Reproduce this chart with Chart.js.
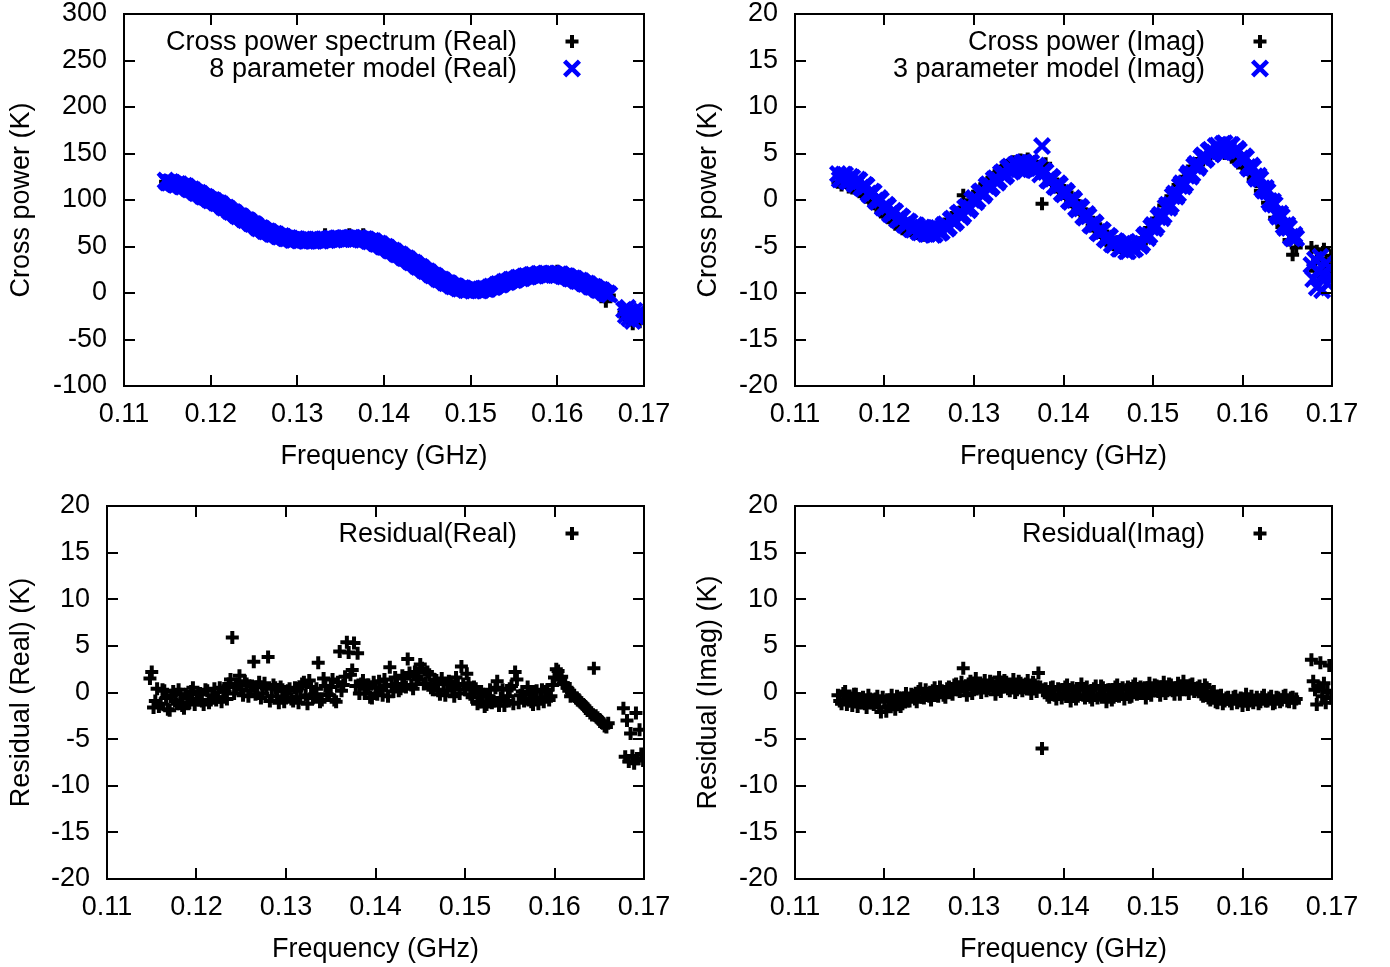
<!DOCTYPE html>
<html>
<head>
<meta charset="utf-8">
<script src="https://cdn.jsdelivr.net/npm/chart.js@4.4.1/dist/chart.umd.min.js"></script>
<style>
  html, body { margin: 0; padding: 0; background: #fff; width: 1390px; height: 967px; overflow: hidden; }
  .pane { position: absolute; }
  .pane canvas { display: block; }
</style>
</head>
<body>
<div class="pane" id="pTL"><canvas id="cTL"></canvas></div>
<div class="pane" id="pTR"><canvas id="cTR"></canvas></div>
<div class="pane" id="pBL"><canvas id="cBL"></canvas></div>
<div class="pane" id="pBR"><canvas id="cBR"></canvas></div>
<script>
// ---------------- DATA ----------------
const xTitle = 'Frequency (GHz)';

// frequency grid of the main band (GHz)
const freq = [
  0.1148,0.1152,0.1156,0.1160,0.1164,0.1168,0.1172,0.1176,0.1180,0.1184,
  0.1188,0.1192,0.1196,0.1200,0.1204,0.1208,0.1212,0.1216,0.1220,0.1224,
  0.1228,0.1232,0.1236,0.1240,0.1244,0.1248,0.1252,0.1256,0.1260,0.1264,
  0.1268,0.1272,0.1276,0.1280,0.1284,0.1288,0.1292,0.1296,0.1300,0.1304,
  0.1308,0.1312,0.1316,0.1320,0.1324,0.1328,0.1332,0.1336,0.1340,0.1344,
  0.1348,0.1352,0.1356,0.1360,0.1364,0.1368,0.1372,0.1376,0.1380,0.1384,
  0.1388,0.1392,0.1396,0.1400,0.1404,0.1408,0.1412,0.1416,0.1420,0.1424,
  0.1428,0.1432,0.1436,0.1440,0.1444,0.1448,0.1452,0.1456,0.1460,0.1464,
  0.1468,0.1472,0.1476,0.1480,0.1484,0.1488,0.1492,0.1496,0.1500,0.1504,
  0.1508,0.1512,0.1516,0.1520,0.1524,0.1528,0.1532,0.1536,0.1540,0.1544,
  0.1548,0.1552,0.1556,0.1560,0.1564,0.1568,0.1572,0.1576,0.1580,0.1584,
  0.1588,0.1592,0.1596,0.1600,0.1604,0.1608,0.1612,0.1616,0.1620,0.1624,
  0.1628,0.1632,0.1636,0.1640,0.1644,0.1648,0.1652,0.1656,0.1660
];
// interleaved channels (between the grid above)
const freqMid = [
  0.1150,0.1154,0.1158,0.1162,0.1166,0.1170,0.1174,0.1178,0.1182,0.1186,
  0.1190,0.1194,0.1198,0.1202,0.1206,0.1210,0.1214,0.1218,0.1222,0.1226,
  0.1230,0.1234,0.1238,0.1242,0.1246,0.1250,0.1254,0.1258,0.1262,0.1266,
  0.1270,0.1274,0.1278,0.1282,0.1286,0.1290,0.1294,0.1298,0.1302,0.1306,
  0.1310,0.1314,0.1318,0.1322,0.1326,0.1330,0.1334,0.1338,0.1342,0.1346,
  0.1350,0.1354,0.1358,0.1362,0.1366,0.1370,0.1374,0.1378,0.1382,0.1386,
  0.1390,0.1394,0.1398,0.1402,0.1406,0.1410,0.1414,0.1418,0.1422,0.1426,
  0.1430,0.1434,0.1438,0.1442,0.1446,0.1450,0.1454,0.1458,0.1462,0.1466,
  0.1470,0.1474,0.1478,0.1482,0.1486,0.1490,0.1494,0.1498,0.1502,0.1506,
  0.1510,0.1514,0.1518,0.1522,0.1526,0.1530,0.1534,0.1538,0.1542,0.1546,
  0.1550,0.1554,0.1558,0.1562,0.1566,0.1570,0.1574,0.1578,0.1582,0.1586,
  0.1590,0.1594,0.1598,0.1602,0.1606,0.1610,0.1614,0.1618,0.1622,0.1626,
  0.1630,0.1634,0.1638,0.1642,0.1646,0.1650,0.1654,0.1658
];
// isolated group of channels at the top of the band
const freqTail = [0.1677,0.1679,0.1681,0.1683,0.1685,0.1687,0.1689,0.1691,0.1693,0.1695,0.1697,0.1699];

// Cross power spectrum (Real), K
const realData = [
  119.5,120.2,117.1,117.8,115.2,116.1,113.0,112.9,109.1,108.8,
  105.2,104.9,101.3,101.0,98.0,97.9,93.6,93.1,89.2,88.6,
  84.6,83.9,80.2,84.0,76.1,75.6,71.4,70.9,67.5,67.4,
  64.2,64.7,61.3,64.5,59.3,59.8,57.0,58.6,56.5,57.8,
  55.9,57.6,55.8,57.5,56.1,58.0,62.7,58.4,57.3,58.9,
  57.6,59.4,58.0,62.7,58.5,59.6,58.0,62.7,56.4,56.9,
  54.2,54.1,50.8,50.9,47.3,46.8,43.2,42.9,39.3,38.8,
  35.0,34.2,30.4,29.5,25.8,25.0,21.0,20.2,16.5,15.7,
  12.4,11.6,8.8,8.3,5.5,5.8,3.6,4.1,2.5,3.9,
  2.4,4.3,3.8,5.7,5.6,8.4,8.3,10.9,11.0,13.6,
  13.4,15.8,15.3,17.4,17.0,19.1,18.5,20.2,19.4,21.0,
  19.7,21.0,19.6,23.5,18.9,18.8,16.6,16.5,14.2,13.9,
  11.5,10.8,8.1,7.6,4.8,4.3,1.4,-9.0,-2.8
];
const realDataTail = [-21,-26,-19,-29,-23,-33,-22,-27,-25,-31,-23,-27];

// 8 parameter model (Real), K  (grid + interleaved channels)
const realModel = [
  121,118.5,118.6,116.2,116.8,114.3,114.6,111.2,110.5,107.4,
  106.8,103.4,102.5,99.6,99.2,96.4,95.3,91.6,90.7,87.1,
  85.9,82.4,81.6,78.3,77.5,74.1,72.9,69.4,68.8,66.1,
  65.6,63.1,62.8,60.4,60.6,58.5,58.6,57.1,57.9,56.5,
  57.3,56.1,57.0,56.2,57.4,56.5,57.8,57.2,58.6,57.7,
  58.9,58.0,59.2,58.3,59.5,58.1,58.9,57.4,57.6,55.4,
  55.6,52.8,52.3,49.4,48.6,45.4,44.7,41.5,40.6,37.4,
  36.3,32.7,31.6,28.1,26.9,23.4,22.3,18.7,17.6,14.4,
  13.6,10.4,9.9,7.1,6.6,4.6,4.9,2.9,3.9,2.6,
  3.6,3.1,4.9,4.4,6.9,7.1,9.6,9.7,12.3,12.4,
  14.6,14.4,16.6,16.2,18.3,17.9,19.6,18.9,20.6,19.6,
  20.9,19.9,20.8,19.2,20.1,17.7,17.8,15.4,15.3,12.7,
  12.6,9.7,9.3,6.4,5.9,3.1,2.6,-0.6,-1.6
];
const realModelMid = [
  118.8,119.3,116.9,117.2,114.8,115.3,112.4,111.6,108.3,107.7,
  104.3,103.6,100.5,100.1,97.1,96.4,92.8,91.9,88.1,87.2,
  83.5,82.7,79.3,78.6,75.1,74.2,70.5,69.9,66.8,66.4,
  63.6,63.7,61.0,61.2,58.8,59.1,57.1,58.1,56.5,57.5,
  56.0,57.3,55.9,57.4,56.2,57.8,56.8,58.4,57.4,58.9,
  57.7,59.2,58.0,59.5,58.1,59.1,57.4,58.1,55.8,56.1,
  53.5,53.1,50.1,49.6,46.3,45.6,42.3,41.6,38.3,37.4,
  33.8,32.8,29.1,28.1,24.5,23.4,19.8,18.8,15.3,14.6,
  11.3,10.8,7.8,7.4,4.9,5.4,3.2,4.0,2.5,3.7,
  2.6,4.6,4.0,6.3,6.3,8.9,9.0,11.6,11.6,14.1,
  13.8,16.1,15.7,17.8,17.4,19.4,18.5,20.4,19.4,20.9,
  19.7,20.9,19.3,20.2,18.2,18.3,15.9,15.9,13.3,13.3,
  10.5,10.1,7.1,6.8,3.8,3.4,0.3,-0.4
];
const realModelTail = [-18,-24,-16,-27,-21,-30,-19,-25,-22,-28,-20,-24];

// Cross power (Imag), K
const imagData = [
  1.9,1.6,1.9,1.4,1.3,1.4,0.9,0.9,0.3,0.2,
  -0.4,-0.4,-1.3,-1.4,-1.9,-1.9,-2.6,-2.5,-3.1,-2.9,
  -3.3,-3.3,-3.6,-3.5,-3.8,-3.5,-3.8,-3.4,-3.6,-3.0,
  -2.7,-2.1,-2.0,-1.4,-1.3,0.5,-0.5,-0.1,0.4,0.9,
  1.2,1.7,1.9,2.4,2.6,3.1,3.2,3.7,3.8,4.1,
  4.0,4.3,4.2,4.4,4.0,4.1,3.6,-0.4,3.9,2.2,
  2.2,1.4,1.5,0.7,0.8,-0.2,-0.1,-1.0,-1.0,-1.8,
  -1.9,-2.8,-2.6,-3.5,-3.4,-4.4,-4.1,-4.8,-4.5,-5.1,
  -5.2,-4.9,-5.3,-4.6,-4.7,-4.1,-4.2,-3.0,-2.9,-2.0,
  -1.8,-0.6,-0.5,0.4,0.5,1.6,1.8,2.5,2.8,3.6,
  3.9,4.4,4.3,4.9,4.6,5.2,4.8,5.3,5.0,5.2,
  4.6,4.9,4.2,3.5,3.9,2.8,2.2,2.0,1.0,0.9,
  -0.3,-0.5,-1.9,-2.1,-2.9,-3.0,-4.3,-5.9,-5.1
];
const imagDataTail = [-5.1,-6.8,-7.6,-5.5,-8.2,-6.3,-7.4,-5.3,-8.6,-6.9,-7.8,-6.0];

// 3 parameter model (Imag), K  (grid + interleaved channels)
const imagModel = [
  2.8,2.2,2.7,2.0,2.4,1.7,2.1,1.2,1.5,0.5,
  0.8,-0.2,0.0,-0.9,-0.7,-1.6,-1.3,-2.2,-1.9,-2.75,
  -2.4,-3.2,-2.75,-3.5,-3.0,-3.65,-3.1,-3.7,-3.0,-3.4,
  -2.6,-2.9,-2.0,-2.3,-1.35,-1.6,-0.7,-0.85,0.2,0.0,
  0.95,0.7,1.7,1.45,2.35,2.1,3.0,2.7,3.6,3.15,
  3.9,3.4,4.05,3.45,4.0,3.2,3.55,5.8,3.0,2.05,
  2.3,1.35,1.6,0.6,0.8,-0.2,0.0,-1.05,-0.9,-1.9,
  -1.75,-2.8,-2.6,-3.6,-3.35,-4.3,-4.0,-4.85,-4.5,-5.25,
  -4.8,-5.5,-4.8,-5.25,-4.5,-4.7,-3.7,-3.8,-2.7,-2.75,
  -1.6,-1.65,-0.5,-0.5,0.7,0.65,1.8,1.75,2.9,2.8,
  3.9,3.75,4.8,4.5,5.4,5.1,5.85,5.4,6.1,5.4,
  5.9,5.1,5.3,4.3,4.5,3.35,3.45,2.3,2.25,1.0,
  0.9,-0.4,-0.5,-1.8,-1.8,-3.0,-3.0,-4.15,-4.1
];
const imagModelMid = [
  2.2,2.75,2.05,2.5,1.75,2.2,1.35,1.65,0.7,0.9,
  -0.05,0.2,-0.8,-0.5,-1.5,-1.15,-2.1,-1.75,-2.65,-2.3,
  -3.15,-2.7,-3.45,-2.95,-3.65,-3.1,-3.75,-3.05,-3.55,-2.7,
  -3.1,-2.15,-2.5,-1.5,-1.85,-0.85,-1.1,0.0,-0.25,0.8,
  0.45,1.5,1.25,2.2,1.85,2.85,2.5,3.45,3.05,3.8,
  3.3,4.0,3.4,4.0,3.25,3.7,2.75,3.15,2.15,2.5,
  1.45,1.8,0.75,1.0,-0.05,0.2,-0.85,-0.7,-1.75,-1.5,
  -2.65,-2.4,-3.45,-3.2,-4.15,-3.85,-4.75,-4.4,-5.25,-4.7,
  -5.5,-4.85,-5.35,-4.6,-4.95,-3.9,-4.1,-2.95,-3.05,-1.85,
  -1.95,-0.8,-0.85,0.4,0.35,1.5,1.45,2.6,2.5,3.65,
  3.45,4.6,4.3,5.25,4.9,5.8,5.25,6.05,5.4,5.95,
  5.15,5.5,4.45,4.7,3.55,3.7,2.55,2.6,1.25,1.3,
  -0.1,-0.15,-1.5,-1.45,-2.75,-2.65,-3.95,-3.75
];
const imagModelTail = [-7.0,-8.5,-6.4,-9.4,-7.6,-6.1,-9.7,-8.0,-6.8,-9.0,-7.3,-8.2];

// Residual (Real), K  (grid + interleaved channels)
const resReal = [
  1.5,-1.6,0.4,-1.2,0.2,-1.8,-0.3,-0.9,0.3,-1.4,
  -0.2,-1.1,0.5,-0.7,-0.1,-1.3,0.2,-0.8,0.4,-0.5,
  -1.0,0.1,0.9,5.9,0.6,1.8,-0.3,0.9,0.2,3.3,
  0.6,-0.6,1.0,3.8,-0.4,0.5,-1.1,0.3,-0.6,0.4,
  -0.9,0.2,-0.5,1.1,-1.2,0.6,-0.2,3.2,-0.8,0.7,
  -0.3,1.4,-1.0,4.4,0.8,5.4,1.9,5.3,4.2,0.9,
  -0.1,0.8,-0.6,0.5,1.2,-0.3,0.7,2.7,0.1,0.9,
  0.4,1.5,3.6,0.8,2.2,1.4,2.6,1.0,1.9,0.3,
  1.3,-0.2,0.9,0.2,1.1,-0.4,0.8,2.8,0.3,1.0,
  -0.5,0.4,-1.0,-0.2,-1.3,0.3,-0.9,1.2,-0.6,-1.4,
  -0.4,0.7,2.2,-1.1,0.1,-0.7,-0.2,-1.3,0.2,-0.6,
  -1.0,0.3,-0.4,1.6,2.3,1.7,0.9,0.2,-0.1,-0.6,
  -0.9,-1.3,-1.7,-2.2,2.6,-2.7,-3.1,-3.6,-3.3
];
const resRealMid = [
  2.2,-0.9,-1.5,0.3,-0.6,-1.9,0.1,-1.2,-0.2,-1.7,
  -0.6,0.1,-1.3,-0.2,-0.9,0.3,-1.1,-0.3,-0.8,0.5,
  0.2,-0.7,1.4,-0.1,0.9,0.3,1.2,-0.4,0.7,-0.2,
  1.1,-0.1,0.4,-0.9,0.8,-0.4,0.6,-1.0,0.2,-0.7,
  0.5,-1.1,0.9,-0.3,1.3,-0.6,0.4,-1.0,1.5,-0.2,
  0.6,-0.8,1.1,0.2,1.7,4.3,2.4,0.7,-0.1,1.3,
  0.4,-0.5,1.1,-0.2,0.3,1.4,-0.4,0.8,1.6,0.2,
  1.8,0.6,2.1,0.4,1.7,3.0,0.9,2.2,0.5,1.4,
  0.2,1.5,-0.3,1.2,0.4,1.6,-0.1,0.9,2.0,-0.2,
  0.6,-1.2,0.1,-1.5,-0.4,-1.1,0.5,-1.4,0.3,-0.9,
  0.4,-1.2,1.4,-0.3,-0.9,0.6,-1.0,0.1,-1.2,0.3,
  0.1,-0.8,0.8,2.5,1.4,1.0,0.5,-0.4,-0.3,-0.8,
  -1.1,-1.5,-1.9,-2.4,-2.5,-2.9,-3.3,-3.7
];
const resRealTail = [-1.7,-6.9,-3.0,-7.4,-4.4,-6.8,-7.6,-2.2,-7.1,-4.0,-6.6,-7.3];

// Residual (Imag), K  (grid + interleaved channels)
const resImag = [
  -0.3,-1.2,0.1,-0.9,-1.4,-0.2,-1.1,-0.5,-1.6,-0.7,
  -1.3,-0.4,-2.1,-0.9,-1.5,-0.3,-1.8,-0.6,-1.2,-0.1,
  -0.9,-0.3,-1.0,0.4,-0.6,-0.1,-0.8,0.5,-0.4,0.2,
  -0.5,0.6,-0.2,0.9,0.1,2.6,-0.3,1.2,0.3,0.9,
  0.0,1.3,0.4,1.0,-0.2,1.6,0.6,1.1,0.2,1.4,
  0.3,1.0,0.5,1.3,-0.1,0.8,2.1,-6.0,0.4,-0.5,
  0.6,-0.7,0.3,-0.2,0.8,-0.9,0.2,-0.4,0.9,-0.6,
  0.1,-0.8,0.7,-0.3,0.5,-1.0,0.3,-0.5,0.8,-0.2,
  -0.7,0.6,-0.4,0.9,-0.1,0.4,-0.6,1.0,0.2,0.7,
  -0.3,1.1,0.2,0.8,-0.2,1.0,0.4,0.6,-0.1,0.9,
  0.3,0.7,-0.4,0.5,-0.8,0.1,-1.1,-0.3,-0.9,-0.5,
  -1.2,-0.4,-0.8,-1.4,-0.2,-0.9,-1.1,-0.5,-1.0,-0.3,
  -0.9,-0.4,-1.1,-0.6,-0.8,-0.3,-1.0,-0.5,-0.7
];
const resImagMid = [
  -0.9,-0.1,-1.3,-0.6,-0.2,-1.5,-0.8,-1.2,-0.3,-1.1,
  -0.7,-1.6,-0.5,-2.0,-0.8,-1.2,-0.4,-1.5,-0.6,-0.9,
  -0.2,-0.7,0.1,-0.5,0.3,-0.4,0.2,-0.1,0.6,-0.3,
  0.4,0.0,0.8,0.3,1.1,0.5,0.9,-0.1,1.5,0.6,
  0.8,0.2,1.2,0.5,0.9,0.1,1.3,0.4,0.7,0.0,
  1.2,0.2,0.9,0.4,1.1,0.1,0.6,0.3,-0.3,0.5,
  -0.3,0.4,-0.6,0.6,-0.2,0.5,-0.7,0.3,-0.3,0.6,
  -0.5,0.4,-0.6,0.7,-0.2,0.3,-0.8,0.6,-0.4,0.5,
  0.3,-0.5,0.7,-0.2,0.6,0.0,0.5,-0.3,0.8,0.1,
  0.6,-0.1,0.9,0.2,0.5,-0.2,1.2,0.3,0.8,0.1,
  0.5,-0.2,0.8,-0.6,-0.1,-1.0,-0.4,-1.2,-0.6,-0.9,
  -0.5,-1.1,-0.6,-0.9,-1.3,-0.4,-0.8,-1.2,-0.5,-0.9,
  -0.6,-1.2,-0.5,-1.0,-0.4,-0.9,-0.6,-1.1
];
const resImagTail = [3.5,1.2,0.3,-1.3,0.6,3.2,-0.4,1.0,-1.1,0.2,2.9,-0.6];

// axis ranges / tick steps
const xRange = [0.11, 0.17], xStep = 0.01;
const realRange = [-100, 300], realStep = 50;
const smallRange = [-20, 20], smallStep = 5;

// ---------------- DRAWING ----------------
const FONT = "'Liberation Sans', Arial, Helvetica, sans-serif";
const FS = 27;
const BLACK = '#000000', BLUE = '#0000ff';
const PLUS_R = 6.5, PLUS_W = 4;
const X_R = 10.5, X_W = 4.5;

function pts(xs, ys) { return xs.map((x, i) => ({ x: x, y: ys[i] })); }

function plusDS(label, parts) {
  return { label, data: [].concat(...parts), pointStyle: 'cross', pointRadius: PLUS_R, pointBorderWidth: PLUS_W,
           borderColor: BLACK, backgroundColor: BLACK, showLine: false, order: 2 };
}
function xDS(label, parts) {
  return { label, data: [].concat(...parts), pointStyle: 'crossRot', pointRadius: X_R, pointBorderWidth: X_W,
           borderColor: BLUE, backgroundColor: BLUE, showLine: false, order: 1 };
}

function drawMark(ctx, kind, x, y) {
  ctx.save();
  ctx.beginPath();
  if (kind === 'cross') {
    ctx.strokeStyle = BLACK; ctx.lineWidth = PLUS_W;
    ctx.moveTo(x - PLUS_R, y); ctx.lineTo(x + PLUS_R, y);
    ctx.moveTo(x, y - PLUS_R); ctx.lineTo(x, y + PLUS_R);
  } else {
    const d = X_R * Math.SQRT1_2;
    ctx.strokeStyle = BLUE; ctx.lineWidth = X_W;
    ctx.moveTo(x - d, y - d); ctx.lineTo(x + d, y + d);
    ctx.moveTo(x + d, y - d); ctx.lineTo(x - d, y + d);
  }
  ctx.stroke();
  ctx.restore();
}

const framePlugin = {
  id: 'frame',
  afterDatasetsDraw(chart) {
    const { ctx, chartArea: a } = chart;
    const sx = chart.scales.x, sy = chart.scales.y;
    const L = 11;
    ctx.save();
    ctx.strokeStyle = BLACK; ctx.lineWidth = 2;
    ctx.beginPath();
    sx.ticks.forEach(t => {
      const p = Math.round(sx.getPixelForValue(t.value));
      if (p <= a.left + 2 || p >= a.right - 2) return;
      ctx.moveTo(p, a.bottom); ctx.lineTo(p, a.bottom - L);
      ctx.moveTo(p, a.top); ctx.lineTo(p, a.top + L);
    });
    sy.ticks.forEach(t => {
      const p = Math.round(sy.getPixelForValue(t.value));
      if (p <= a.top + 2 || p >= a.bottom - 2) return;
      ctx.moveTo(a.left, p); ctx.lineTo(a.left + L, p);
      ctx.moveTo(a.right, p); ctx.lineTo(a.right - L, p);
    });
    ctx.stroke();
    ctx.strokeRect(Math.round(a.left), Math.round(a.top), Math.round(a.right - a.left), Math.round(a.bottom - a.top));
    ctx.restore();
  }
};

const keyPlugin = {
  id: 'keyBox',
  afterDraw(chart) {
    const { ctx, chartArea: a } = chart;
    const ds = chart.data.datasets;
    ctx.save();
    ctx.font = FS + 'px ' + FONT;
    ctx.fillStyle = BLACK;
    ctx.textAlign = 'right';
    ctx.textBaseline = 'middle';
    ds.forEach((d, i) => {
      const y = a.top + 27 + i * 27;
      ctx.fillText(d.label, a.right - 127, y + 2);
      drawMark(ctx, d.pointStyle, a.right - 72, y + 0.5);
    });
    ctx.restore();
  }
};

function makePanel(id, box, area, yRange, yStep, yTitle, datasets) {
  const pane = document.getElementById('p' + id);
  pane.style.left = box.left + 'px';
  pane.style.top = box.top + 'px';
  const cv = document.getElementById('c' + id);
  cv.width = box.w; cv.height = box.h;
  cv.style.width = box.w + 'px'; cv.style.height = box.h + 'px';
  const aL = area.l - box.left, aR = area.r - box.left;
  const aT = area.t - box.top, aB = area.b - box.top;
  const font = { family: FONT, size: FS };
  return new Chart(cv, {
    type: 'scatter',
    data: { datasets },
    plugins: [framePlugin, keyPlugin],
    options: {
      responsive: false, animation: false, devicePixelRatio: 1, events: [],
      layout: { padding: { left: 0, top: aT, right: box.w - aR, bottom: 0 } },
      plugins: { legend: { display: false }, tooltip: { enabled: false } },
      scales: {
        x: {
          type: 'linear', min: xRange[0], max: xRange[1],
          afterFit: s => { s.height = box.h - aB; },
          ticks: { stepSize: xStep, padding: 12, font, color: BLACK, maxRotation: 0, autoSkip: false,
                   callback: v => Number(v).toFixed(2) },
          grid: { display: false, drawTicks: false }, border: { display: false },
          title: { display: true, text: xTitle, font, color: BLACK, padding: { top: 0, bottom: 10 } }
        },
        y: {
          type: 'linear', min: yRange[0], max: yRange[1],
          afterFit: s => { s.width = aL; },
          ticks: { stepSize: yStep, padding: 17, font, color: BLACK, autoSkip: false },
          grid: { display: false, drawTicks: false }, border: { display: false },
          title: { display: true, text: yTitle, font, color: BLACK, padding: { top: 5, bottom: 0 } }
        }
      }
    }
  });
}

makePanel('TL', { left: 0, top: -20, w: 687, h: 503 }, { l: 124, t: 14, r: 644, b: 386 },
  realRange, realStep, 'Cross power (K)', [
    plusDS('Cross power spectrum (Real)', [pts(freq, realData), pts(freqTail, realDataTail)]),
    xDS('8 parameter model (Real)', [pts(freq, realModel), pts(freqMid, realModelMid), pts(freqTail, realModelTail)])
  ]);

makePanel('TR', { left: 687, top: -20, w: 703, h: 503 }, { l: 795, t: 14, r: 1332, b: 386 },
  smallRange, smallStep, 'Cross power (K)', [
    plusDS('Cross power (Imag)', [pts(freq, imagData), pts(freqTail, imagDataTail)]),
    xDS('3 parameter model (Imag)', [pts(freq, imagModel), pts(freqMid, imagModelMid), pts(freqTail, imagModelTail)])
  ]);

makePanel('BL', { left: 0, top: 472, w: 687, h: 504 }, { l: 107, t: 506, r: 644, b: 879 },
  smallRange, smallStep, 'Residual (Real) (K)', [
    plusDS('Residual(Real)', [pts(freq, resReal), pts(freqMid, resRealMid), pts(freqTail, resRealTail)])
  ]);

makePanel('BR', { left: 687, top: 472, w: 703, h: 504 }, { l: 795, t: 506, r: 1332, b: 879 },
  smallRange, smallStep, 'Residual (Imag) (K)', [
    plusDS('Residual(Imag)', [pts(freq, resImag), pts(freqMid, resImagMid), pts(freqTail, resImagTail)])
  ]);
</script>
</body>
</html>
